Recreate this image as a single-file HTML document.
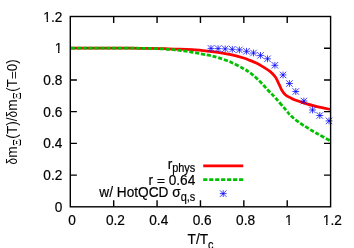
<!DOCTYPE html>
<html><head><meta charset="utf-8"><title>plot</title>
<style>html,body{margin:0;padding:0;background:#fff;overflow:hidden;}svg{display:block;will-change:transform;}text{font-family:"Liberation Sans",sans-serif;fill:#000;stroke:#000;stroke-width:0.2px;}text.v{stroke-width:0;}</style></head><body>
<svg width="354" height="248" viewBox="0 0 354 248">
<rect x="0" y="0" width="354" height="248" fill="#fff"/>
<text transform="translate(72.00,225.10) scale(0.912,1)" font-size="15" text-anchor="middle">0</text>
<path d="M113.68,206.80 v-6.60 M113.68,16.50 v6.60" stroke="#000" stroke-width="1.4"/>
<text transform="translate(115.38,225.10) scale(0.912,1)" font-size="15" text-anchor="middle">0.2</text>
<path d="M157.07,206.80 v-6.60 M157.07,16.50 v6.60" stroke="#000" stroke-width="1.4"/>
<text transform="translate(158.77,225.10) scale(0.912,1)" font-size="15" text-anchor="middle">0.4</text>
<path d="M200.45,206.80 v-6.60 M200.45,16.50 v6.60" stroke="#000" stroke-width="1.4"/>
<text transform="translate(202.15,225.10) scale(0.912,1)" font-size="15" text-anchor="middle">0.6</text>
<path d="M243.83,206.80 v-6.60 M243.83,16.50 v6.60" stroke="#000" stroke-width="1.4"/>
<text transform="translate(245.53,225.10) scale(0.912,1)" font-size="15" text-anchor="middle">0.8</text>
<path d="M287.22,206.80 v-6.60 M287.22,16.50 v6.60" stroke="#000" stroke-width="1.4"/>
<text transform="translate(288.92,225.10) scale(0.912,1)" font-size="15" text-anchor="middle">1</text>
<text transform="translate(332.30,225.10) scale(0.912,1)" font-size="15" text-anchor="middle">1.2</text>
<text transform="translate(62.30,211.80) scale(0.912,1)" font-size="15" text-anchor="end">0</text>
<path d="M70.30,175.08 h6.60 M330.60,175.08 h-6.60" stroke="#000" stroke-width="1.4"/>
<text transform="translate(62.30,180.08) scale(0.912,1)" font-size="15" text-anchor="end">0.2</text>
<path d="M70.30,143.37 h6.60 M330.60,143.37 h-6.60" stroke="#000" stroke-width="1.4"/>
<text transform="translate(62.30,148.37) scale(0.912,1)" font-size="15" text-anchor="end">0.4</text>
<path d="M70.30,111.65 h6.60 M330.60,111.65 h-6.60" stroke="#000" stroke-width="1.4"/>
<text transform="translate(62.30,116.65) scale(0.912,1)" font-size="15" text-anchor="end">0.6</text>
<path d="M70.30,79.93 h6.60 M330.60,79.93 h-6.60" stroke="#000" stroke-width="1.4"/>
<text transform="translate(62.30,84.93) scale(0.912,1)" font-size="15" text-anchor="end">0.8</text>
<path d="M70.30,48.22 h6.60 M330.60,48.22 h-6.60" stroke="#000" stroke-width="1.4"/>
<text transform="translate(62.30,53.22) scale(0.912,1)" font-size="15" text-anchor="end">1</text>
<text transform="translate(62.30,21.50) scale(0.912,1)" font-size="15" text-anchor="end">1.2</text>
<path d="M70.30,48.20 C72.75,48.20 80.05,48.20 85.00,48.20 C89.95,48.20 95.00,48.20 100.00,48.20 C105.00,48.20 110.00,48.20 115.00,48.20 C120.00,48.20 124.17,48.17 130.00,48.20 C135.83,48.23 144.17,48.32 150.00,48.40 C155.83,48.48 160.00,48.58 165.00,48.70 C170.00,48.82 175.50,48.93 180.00,49.10 C184.50,49.27 187.77,49.42 192.00,49.70 C196.23,49.98 201.07,50.35 205.40,50.80 C209.73,51.25 213.75,51.75 218.00,52.40 C222.25,53.05 226.63,53.77 230.90,54.70 C235.17,55.63 240.42,57.05 243.60,58.00 C246.78,58.95 247.88,59.57 250.00,60.40 C252.12,61.23 254.18,61.97 256.30,63.00 C258.42,64.03 260.37,65.17 262.70,66.60 C265.03,68.03 268.18,69.85 270.30,71.60 C272.42,73.35 273.92,74.93 275.40,77.10 C276.88,79.27 278.13,82.42 279.20,84.60 C280.27,86.78 280.73,88.47 281.80,90.20 C282.87,91.93 284.12,93.72 285.60,95.00 C287.08,96.28 289.00,97.02 290.70,97.90 C292.40,98.78 293.27,99.35 295.80,100.30 C298.33,101.25 302.52,102.60 305.90,103.60 C309.28,104.60 311.98,105.32 316.10,106.30 C320.22,107.28 328.18,108.97 330.60,109.50" fill="none" stroke="#ff0000" stroke-width="2.75" stroke-linejoin="round"/>
<path d="M70.30,48.20 C72.75,48.20 80.05,48.20 85.00,48.20 C89.95,48.20 95.00,48.20 100.00,48.20 C105.00,48.20 109.17,48.20 115.00,48.20 C120.83,48.20 129.17,48.16 135.00,48.20 C140.83,48.24 145.00,48.32 150.00,48.45 C155.00,48.58 160.83,48.77 165.00,49.00 C169.17,49.23 171.83,49.48 175.00,49.80 C178.17,50.12 181.05,50.48 184.00,50.90 C186.95,51.32 189.87,51.82 192.70,52.30 C195.53,52.78 198.12,53.27 201.00,53.80 C203.88,54.33 207.15,54.87 210.00,55.50 C212.85,56.13 214.62,56.48 218.10,57.60 C221.58,58.72 226.65,60.35 230.90,62.20 C235.15,64.05 240.42,66.93 243.60,68.70 C246.78,70.47 247.88,71.27 250.00,72.80 C252.12,74.33 254.18,75.97 256.30,77.90 C258.42,79.83 260.58,82.18 262.70,84.40 C264.82,86.62 266.88,88.95 269.00,91.20 C271.12,93.45 272.63,94.83 275.40,97.90 C278.17,100.97 283.17,106.75 285.60,109.60 C288.03,112.45 288.30,113.27 290.00,115.00 C291.70,116.73 293.45,118.20 295.80,120.00 C298.15,121.80 300.72,123.63 304.10,125.80 C307.48,127.97 311.68,130.47 316.10,133.00 C320.52,135.53 328.18,139.67 330.60,141.00" fill="none" stroke="#00c000" stroke-width="2.75" stroke-dasharray="4.2 1.73" stroke-dashoffset="-0.5" stroke-linejoin="round"/>
<path d="M70.4,48.2 H71.3" stroke="#00c000" stroke-width="2.75"/>
<path d="M207.60,48.40 H214.40 M211.00,45.00 V51.80 M207.75,45.15 L214.25,51.65 M207.75,51.65 L214.25,45.15" stroke="#0000ff" stroke-width="0.75" fill="none"/>
<path d="M214.70,48.60 H221.50 M218.10,45.20 V52.00 M214.85,45.35 L221.35,51.85 M214.85,51.85 L221.35,45.35" stroke="#0000ff" stroke-width="0.75" fill="none"/>
<path d="M221.80,48.90 H228.60 M225.20,45.50 V52.30 M221.95,45.65 L228.45,52.15 M221.95,52.15 L228.45,45.65" stroke="#0000ff" stroke-width="0.75" fill="none"/>
<path d="M228.90,49.30 H235.70 M232.30,45.90 V52.70 M229.05,46.05 L235.55,52.55 M229.05,52.55 L235.55,46.05" stroke="#0000ff" stroke-width="0.75" fill="none"/>
<path d="M236.00,49.90 H242.80 M239.40,46.50 V53.30 M236.15,46.65 L242.65,53.15 M236.15,53.15 L242.65,46.65" stroke="#0000ff" stroke-width="0.75" fill="none"/>
<path d="M243.10,51.30 H249.90 M246.50,47.90 V54.70 M243.25,48.05 L249.75,54.55 M243.25,54.55 L249.75,48.05" stroke="#0000ff" stroke-width="0.75" fill="none"/>
<path d="M250.10,53.00 H256.90 M253.50,49.60 V56.40 M250.25,49.75 L256.75,56.25 M250.25,56.25 L256.75,49.75" stroke="#0000ff" stroke-width="0.75" fill="none"/>
<path d="M257.10,55.40 H263.90 M260.50,52.00 V58.80 M257.25,52.15 L263.75,58.65 M257.25,58.65 L263.75,52.15" stroke="#0000ff" stroke-width="0.75" fill="none"/>
<path d="M264.10,58.80 H270.90 M267.50,55.40 V62.20 M264.25,55.55 L270.75,62.05 M264.25,62.05 L270.75,55.55" stroke="#0000ff" stroke-width="0.75" fill="none"/>
<path d="M271.50,65.30 H278.30 M274.90,61.90 V68.70 M271.65,62.05 L278.15,68.55 M271.65,68.55 L278.15,62.05" stroke="#0000ff" stroke-width="0.75" fill="none"/>
<path d="M279.65,74.95 H286.45 M283.05,71.55 V78.35 M279.80,71.70 L286.30,78.20 M279.80,78.20 L286.30,71.70" stroke="#0000ff" stroke-width="0.75" fill="none"/>
<path d="M286.00,83.50 H292.80 M289.40,80.10 V86.90 M286.15,80.25 L292.65,86.75 M286.15,86.75 L292.65,80.25" stroke="#0000ff" stroke-width="0.75" fill="none"/>
<path d="M292.40,91.50 H299.20 M295.80,88.10 V94.90 M292.55,88.25 L299.05,94.75 M292.55,94.75 L299.05,88.25" stroke="#0000ff" stroke-width="0.75" fill="none"/>
<path d="M300.50,101.00 H307.30 M303.90,97.60 V104.40 M300.65,97.75 L307.15,104.25 M300.65,104.25 L307.15,97.75" stroke="#0000ff" stroke-width="0.75" fill="none"/>
<path d="M309.10,110.00 H315.90 M312.50,106.60 V113.40 M309.25,106.75 L315.75,113.25 M309.25,113.25 L315.75,106.75" stroke="#0000ff" stroke-width="0.75" fill="none"/>
<path d="M316.40,115.50 H323.20 M319.80,112.10 V118.90 M316.55,112.25 L323.05,118.75 M316.55,118.75 L323.05,112.25" stroke="#0000ff" stroke-width="0.75" fill="none"/>
<path d="M325.60,120.90 H332.40 M329.00,117.50 V124.30 M325.75,117.65 L332.25,124.15 M325.75,124.15 L332.25,117.65" stroke="#0000ff" stroke-width="0.75" fill="none"/>
<rect x="70.30" y="16.50" width="260.30" height="190.30" fill="none" stroke="#000" stroke-width="1.4"/>
<rect x="284.85" y="222.70" width="3.58" height="3.20" fill="#fff"/><rect x="289.88" y="222.70" width="3.37" height="3.20" fill="#fff"/>
<rect x="322.53" y="222.70" width="3.58" height="3.20" fill="#fff"/><rect x="327.56" y="222.70" width="3.37" height="3.20" fill="#fff"/>
<rect x="54.43" y="50.82" width="3.58" height="3.20" fill="#fff"/><rect x="59.46" y="50.82" width="3.37" height="3.20" fill="#fff"/>
<rect x="43.02" y="19.10" width="3.58" height="3.20" fill="#fff"/><rect x="48.05" y="19.10" width="3.37" height="3.20" fill="#fff"/>
<text transform="translate(187.60,244.40) scale(0.912,1)" font-size="15" text-anchor="start">T/T<tspan font-size="12.00" dy="4.30" dx="0.00">c</tspan></text>
<text class="v" transform="translate(17.30,164.60) rotate(-90) scale(0.790,1)" font-size="15">δ</text>
<text class="v" transform="translate(17.30,157.71) rotate(-90) scale(0.912,1)" font-size="15">m</text>
<text class="v" transform="translate(20.70,145.98) rotate(-90) scale(0.912,1)" font-size="11.9" style="font-family:'Liberation Serif',serif">Ξ</text>
<text class="v" transform="translate(17.30,138.65) rotate(-90) scale(0.912,1)" font-size="15">(T)/</text>
<text class="v" transform="translate(17.30,117.45) rotate(-90) scale(0.790,1)" font-size="15">δ</text>
<text class="v" transform="translate(17.30,110.66) rotate(-90) scale(0.912,1)" font-size="15">m</text>
<text class="v" transform="translate(20.70,99.23) rotate(-90) scale(0.912,1)" font-size="11.9" style="font-family:'Liberation Serif',serif">Ξ</text>
<text class="v" transform="translate(17.30,91.65) rotate(-90) scale(0.889,1)" font-size="15">(T</text>
<text class="v" transform="translate(17.6,79.06) rotate(-90) scale(0.889,0.75)" font-size="15" style="stroke-width:0.2px">=</text>
<text class="v" transform="translate(17.30,71.28) rotate(-90) scale(0.889,1)" font-size="15">0)</text>
<text transform="translate(195.30,169.30) scale(0.912,1)" font-size="15" text-anchor="end">r<tspan font-size="12.00" dy="3.10" dx="0.00">phys</tspan></text>
<text transform="translate(148.53,184.90) scale(0.912,1)" font-size="15" text-anchor="start">r</text>
<text transform="translate(156.89,184.90) scale(0.912,0.775)" font-size="15" style="stroke-width:0.3px">=</text>
<text transform="translate(195.30,184.90) scale(0.912,1)" font-size="15" text-anchor="end">0.64</text>
<text transform="translate(195.30,197.40) scale(0.912,1)" font-size="15" text-anchor="end">w/ HotQCD σ<tspan font-size="12.00" dy="3.50" dx="0.00">q,s</tspan></text>
<path d="M203.2,165.9 H243.2" stroke="#ff0000" stroke-width="2.75"/>
<path d="M203.2,179.6 H243.2" stroke="#00c000" stroke-width="2.75" stroke-dasharray="4.2 1.767"/>
<path d="M219.80,193.60 H226.60 M223.20,190.20 V197.00 M219.95,190.35 L226.45,196.85 M219.95,196.85 L226.45,190.35" stroke="#0000ff" stroke-width="0.75" fill="none"/>
</svg></body></html>
